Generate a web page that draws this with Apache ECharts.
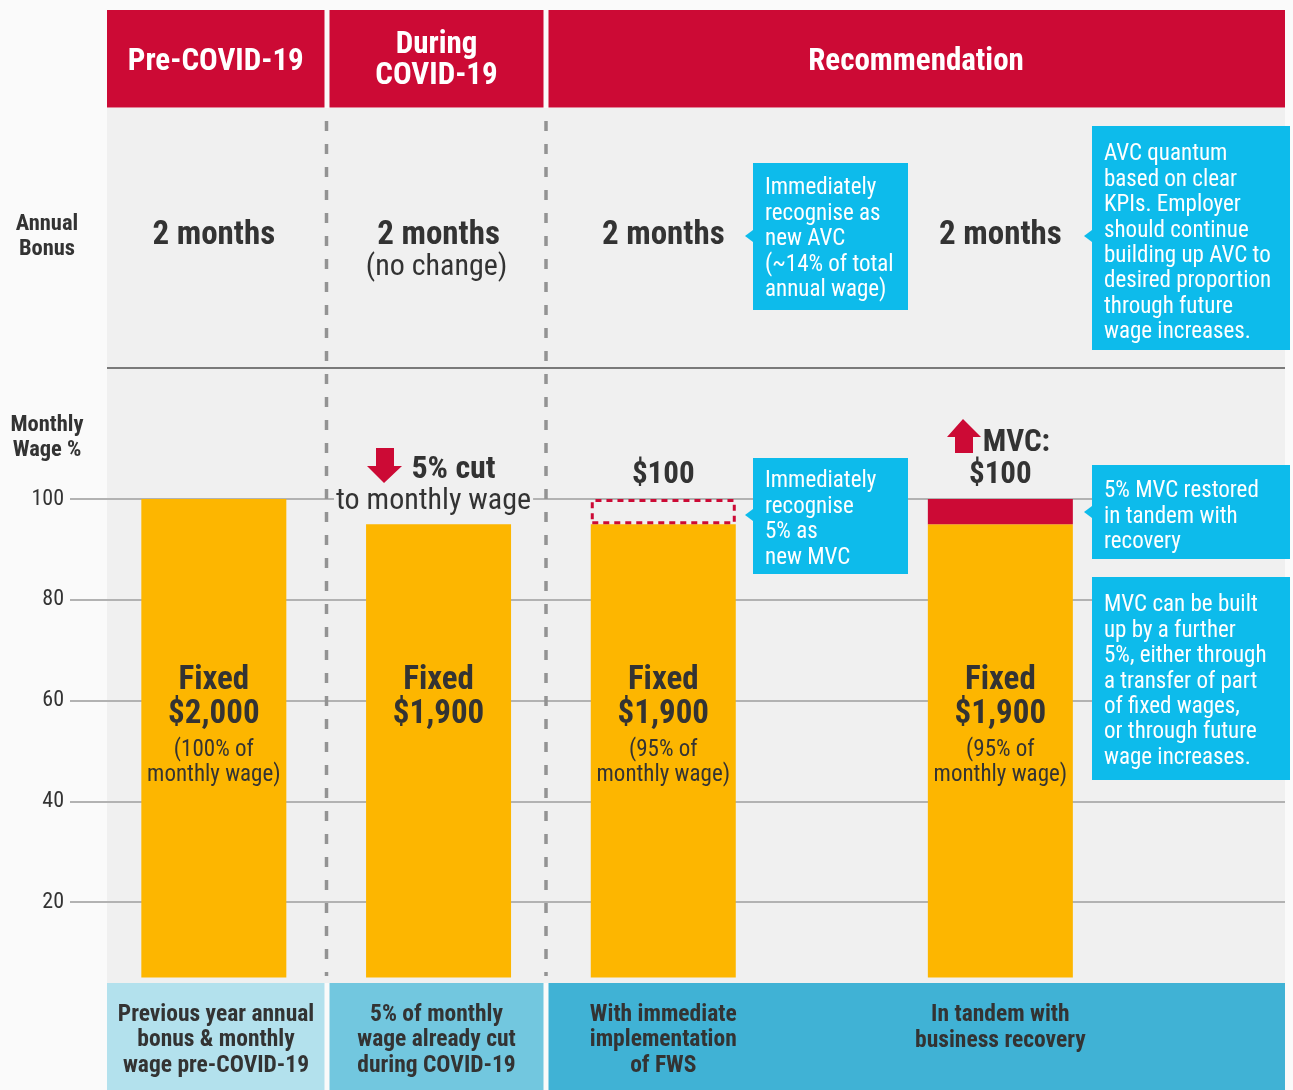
<!DOCTYPE html>
<html>
<head>
<meta charset="utf-8">
<script src="https://cdn.jsdelivr.net/npm/echarts@6/dist/echarts.min.js"></script>
<style>
  html, body { margin: 0; padding: 0; background: #fafafa; }
  #chart { width: 1293px; height: 1090px; }
</style>
</head>
<body>
<div id="chart"></div>
<script>
// data
const stages = ['Pre-COVID-19', 'During COVID-19', 'Immediate FWS', 'Business recovery'];
const fixedPct = [100, 95, 95, 95];
const mvcPct = ['-', '-', 5, 5];
const mvcStatus = ['', '', 'recognised', 'restored'];
const fixedAmount = ['$2,000', '$1,900', '$1,900', '$1,900'];
const fixedShare = ['(100% of\nmonthly wage)', '', '(95% of\nmonthly wage)', '(95% of\nmonthly wage)'];
const mvcAmount = ['', '', '$100', '$100'];
const mvcCaption = ['', '', '', 'MVC:'];
const bonusText = ['2 months', '2 months', '2 months', '2 months'];
const bonusNote = ['', '(no change)', '', ''];
const yTicks = [0, 20, 40, 60, 80, 100];

const headers = ['Pre-COVID-19', 'During\nCOVID-19', 'Recommendation'];
const footers = [
  'Previous year annual\nbonus & monthly\nwage pre-COVID-19',
  '5% of monthly\nwage already cut\nduring COVID-19',
  'With immediate\nimplementation\nof FWS',
  'In tandem with\nbusiness recovery'
];
const notes = {
  avcNow: 'Immediately\nrecognise as\nnew AVC\n(~14% of total\nannual wage)',
  avcLater: 'AVC quantum\nbased on clear\nKPIs. Employer\nshould continue\nbuilding up AVC to\ndesired proportion\nthrough future\nwage increases.',
  mvcNow: 'Immediately\nrecognise\n5% as\nnew MVC',
  mvcLater: '5% MVC restored\nin tandem with\nrecovery',
  mvcMore: 'MVC can be built\nup by a further\n5%, either through\na transfer of part\nof fixed wages,\nor through future\nwage increases.'
};
const cutTitle = '5% cut';
const cutNote = 'to monthly wage';

// look
const FONT = "'Roboto Condensed', 'DejaVu Sans Condensed', 'Liberation Sans Narrow', Roboto, sans-serif";
const RED = '#cc0a35';
const YELLOW = '#fdb600';
const CYAN = '#0dbbeb';
const INK = '#333333';
const PANEL = '#f0f0f0';

// bars sit in slots of a 10-slot category axis so that the spacing is uneven
const slotCount = 10;
const slotW = 112.36;
const barLeft = 157.65 - slotW;
const columnSlots = [1, 3, 5, 8];
const colX = columnSlots.map(s => barLeft + (s + 0.5) * slotW);

const xCats = Array(slotCount).fill('');
const fixedData = Array(slotCount).fill('-');
const mvcData = Array(slotCount).fill('-');
columnSlots.forEach((s, i) => {
  xCats[s] = stages[i];
  fixedData[s] = { value: fixedPct[i], col: i };
  if (mvcPct[i] !== '-') {
    const item = { value: mvcPct[i], col: i };
    if (mvcStatus[i] === 'recognised') {
      item.itemStyle = { color: 'rgba(0,0,0,0)', borderColor: RED, borderWidth: 3, borderType: [6, 5] };
    } else {
      item.itemStyle = { color: RED };
    }
    mvcData[s] = item;
  }
});

function rect(x, y, w, h, fill, z) {
  return { type: 'rect', silent: true, z: z, shape: { x: x, y: y, width: w, height: h }, style: { fill: fill } };
}
function txt(x, y, text, size, o) {
  o = o || {};
  return {
    type: 'text', silent: true, z: o.z || 20,
    style: Object.assign({
      x: x, y: y, text: text,
      fontFamily: FONT, fontSize: size, fontWeight: o.bold ? 'bold' : 'normal',
      fill: o.color || INK,
      align: o.align || 'center', verticalAlign: o.va || 'middle',
      lineHeight: o.lh || Math.round(size * 1.1)
    }, o.extra || {})
  };
}
function callout(x, y, w, h, text, pointerY, firstLineY) {
  const els = [rect(x, y, w, h, CYAN, 15)];
  if (pointerY) {
    els.push({ type: 'polygon', silent: true, z: 15, shape: { points: [[x, pointerY - 6], [x - 8, pointerY], [x, pointerY + 6]] }, style: { fill: CYAN } });
  }
  els.push(txt(x + 12, firstLineY - 10, text, 23, { color: '#ffffff', align: 'left', va: 'top', lh: 25.4, z: 16 }));
  return els;
}

const graphics = [];
// panel and bands
graphics.push(rect(107, 108, 1178, 875, PANEL, -1));
graphics.push(rect(0, 983, 1293, 107, '#fafafa', 9));
graphics.push(rect(107, 983, 217.5, 107, '#b3e1ed', 10));
graphics.push(rect(329.5, 983, 214, 107, '#72c7df', 10));
graphics.push(rect(548.5, 983, 736.5, 107, '#40b2d5', 10));
graphics.push(rect(107, 10, 217.5, 97.5, RED, 10));
graphics.push(rect(329.5, 10, 214, 97.5, RED, 10));
graphics.push(rect(548.5, 10, 736.5, 97.5, RED, 10));

// header text
graphics.push(txt(215.75, 62, headers[0], 31, { bold: true, color: '#ffffff' }));
graphics.push(txt(436.5, 60.5, headers[1], 31, { bold: true, color: '#ffffff', lh: 31 }));
graphics.push(txt(916, 62, headers[2], 31, { bold: true, color: '#ffffff' }));

// row separators
[326.5, 546].forEach(x => {
  graphics.push({ type: 'line', silent: true, z: 1, shape: { x1: x, y1: 121, x2: x, y2: 976 }, style: { stroke: '#939393', lineWidth: 3.5, lineDash: [10, 13] } });
});
graphics.push({ type: 'line', silent: true, z: 3, shape: { x1: 107, y1: 368, x2: 1285, y2: 368 }, style: { stroke: '#7a7a7a', lineWidth: 2 } });

// row titles
graphics.push(txt(47, 237, 'Annual\nBonus', 22.5, { bold: true, lh: 25 }));
graphics.push(txt(47, 438, 'Monthly\nWage %', 22.5, { bold: true, lh: 25 }));

// annual bonus row
bonusText.forEach((t, i) => {
  graphics.push(txt(colX[i], 236, t, 33, { bold: true }));
  if (bonusNote[i]) graphics.push(txt(colX[i] - 2, 267, bonusNote[i], 30));
});

// annotations above bars
graphics.push({ type: 'polygon', silent: true, z: 20, shape: { points: [[376, 448], [394, 448], [394, 466], [402, 466], [384, 483], [367, 466], [376, 466]] }, style: { fill: RED } });
graphics.push(txt(colX[1] + 15, 470, cutTitle, 32, { bold: true }));
graphics.push(txt(colX[1] - 5, 501, cutNote, 30, { extra: { backgroundColor: PANEL, padding: [0, 2] } }));
graphics.push({ type: 'polygon', silent: true, z: 20, shape: { points: [[963, 419], [981, 437], [973, 437], [973, 453], [955, 453], [955, 437], [947, 437]] }, style: { fill: RED } });

// callouts
graphics.push.apply(graphics, callout(753, 163, 155, 147, notes.avcNow, 236, 186));
graphics.push.apply(graphics, callout(1092, 126, 198, 224, notes.avcLater, 236, 152));
graphics.push.apply(graphics, callout(753, 458, 155, 116, notes.mvcNow, 515, 479));
graphics.push.apply(graphics, callout(1092, 465, 198, 94, notes.mvcLater, 512, 489));
graphics.push.apply(graphics, callout(1092, 577, 198, 203, notes.mvcMore, 0, 603));

// footer text
graphics.push(txt(216, 1040.5, footers[0], 23.5, { bold: true, lh: 25.5 }));
graphics.push(txt(436.5, 1040.5, footers[1], 23.5, { bold: true, lh: 25.5 }));
graphics.push(txt(colX[2], 1040.5, footers[2], 23.5, { bold: true, lh: 25.5 }));
graphics.push(txt(colX[3], 1028, footers[3], 23.5, { bold: true, lh: 25.5 }));

const chart = echarts.init(document.getElementById('chart'));

const option = {
  animation: false,
  backgroundColor: '#fafafa',
  textStyle: { fontFamily: FONT },
  grid: [
    { left: 70, right: 8, top: 499, height: 503.75 },
    { left: barLeft, width: slotW * slotCount, top: 499, height: 478.56 }
  ],
  xAxis: [
    { gridIndex: 0, type: 'value', min: 0, max: 1, show: false },
    { gridIndex: 1, type: 'category', data: xCats, show: false }
  ],
  yAxis: [
    {
      gridIndex: 0, type: 'value', min: yTicks[0], max: yTicks[yTicks.length - 1], interval: yTicks[1] - yTicks[0],
      axisLine: { show: false }, axisTick: { show: false },
      axisLabel: { showMinLabel: false, margin: 6, fontSize: 22, color: INK, fontFamily: FONT },
      splitLine: { lineStyle: { color: '#b2b2b2', width: 2 } }
    },
    { gridIndex: 1, type: 'value', min: 5, max: 100, show: false }
  ],
  series: [
    {
      name: 'Fixed wage', type: 'bar', xAxisIndex: 1, yAxisIndex: 1, stack: 'wage',
      barWidth: 145, data: fixedData, itemStyle: { color: YELLOW },
      label: {
        show: true, position: 'insideBottom', distance: 190,
        formatter: function (p) {
          const i = p.data.col;
          const share = fixedShare[i] ? fixedShare[i].split('\n') : [' ', ' '];
          return ['{b|Fixed}', '{b|' + fixedAmount[i] + '}', '{gap| }'].concat(share.map(s => '{s|' + s + '}')).join('\n');
        },
        rich: {
          b: { fontFamily: FONT, fontSize: 33, fontWeight: 'bold', color: INK, lineHeight: 34 },
          gap: { fontSize: 1, lineHeight: 6 },
          s: { fontFamily: FONT, fontSize: 23, color: INK, lineHeight: 25 }
        }
      }
    },
    {
      name: 'MVC', type: 'bar', xAxisIndex: 1, yAxisIndex: 1, stack: 'wage',
      barWidth: 145, data: mvcData,
      label: {
        show: true, position: 'top', distance: 8,
        formatter: function (p) {
          const i = p.data.col;
          const lines = [];
          if (mvcCaption[i]) lines.push('{sp|}{b|' + mvcCaption[i] + '}');
          lines.push('{b|' + mvcAmount[i] + '}');
          return lines.join('\n');
        },
        rich: {
          b: { fontFamily: FONT, fontSize: 31, fontWeight: 'bold', color: INK, lineHeight: 32 },
          sp: { width: 32 }
        }
      }
    }
  ],
  graphic: { elements: graphics }
};

chart.setOption(option);
window.addEventListener('resize', function () { chart.resize(); });
</script>
</body>
</html>
